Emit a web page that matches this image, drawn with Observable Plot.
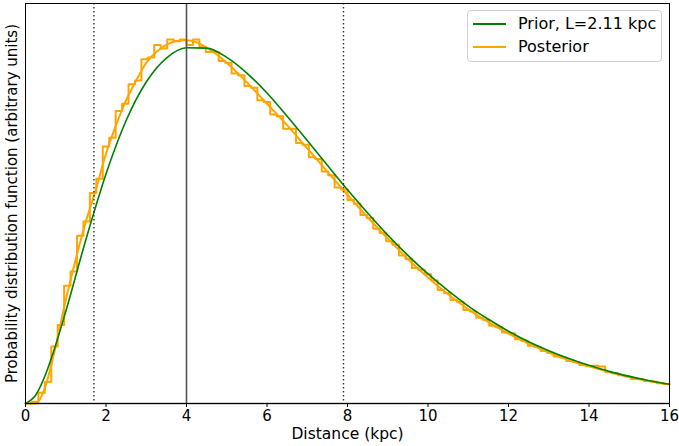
<!DOCTYPE html>
<html>
<head>
<meta charset="utf-8">
<script src="https://cdn.jsdelivr.net/npm/d3@7"></script>
<script src="https://cdn.jsdelivr.net/npm/@observablehq/plot@0.6"></script>
<style>
  html, body { margin: 0; padding: 0; background: white; }
  #wrap { position: relative; width: 679px; height: 446px; font-family: "DejaVu Sans", sans-serif; }
  #legend { position: absolute; left: 467px; top: 10px; width: 193px; height: 50px;
    border: 1px solid #d0d0d0; border-radius: 4px; background: rgba(255,255,255,0.85); }
  .sw { position: absolute; left: 5px; width: 33px; height: 0; border-top: 2px solid; }
  .lt { position: absolute; left: 50px; font-size: 16px; color: #000; line-height: 20px; white-space: nowrap; }
</style>
</head>
<body>
<div id="wrap"></div>
<script>
// ---- data ----
const priorLabel = "Prior, L=2.11 kpc";
const posteriorLabel = "Posterior";
const xLabel = "Distance (kpc)";
const yLabel = "Probability distribution function (arbitrary units)";
const xTicks = [0, 2, 4, 6, 8, 10, 12, 14, 16];

// Prior curve (green), relative units
const priorR   = [0, 0.25, 0.5, 0.75, 1, 1.5, 2, 2.5, 3, 3.5, 4, 4.5, 5, 5.5, 6, 6.5, 7, 7.5, 8, 8.5, 9, 9.5, 10, 10.5, 11, 11.5, 12, 12.5, 13, 13.5, 14, 14.5, 15, 15.5, 16];
const priorPDF = [0, 0.023, 0.082, 0.164, 0.258, 0.459, 0.643, 0.793, 0.901, 0.968, 0.997, 0.996, 0.970, 0.926, 0.870, 0.805, 0.737, 0.668, 0.599, 0.534, 0.472, 0.415, 0.363, 0.316, 0.273, 0.236, 0.2025, 0.173, 0.148, 0.126, 0.107, 0.090, 0.076, 0.064, 0.054];

// Smooth posterior curve (orange)
const postR   = [0, 0.25, 0.4, 0.5, 0.75, 1.0, 1.25, 1.5, 1.75, 2.0, 2.25, 2.5, 2.75, 3.0, 3.25, 3.5, 3.75, 4.0, 4.25, 4.5, 4.75, 5.0, 5.5, 6.0, 6.5, 7.0, 7.5, 8.0, 8.5, 9.0, 9.5, 10, 10.5, 11, 11.5, 12, 12.5, 13, 13.5, 14, 14.5, 15, 15.5, 16];
const postPDF = [0, 0, 0.02, 0.05, 0.16, 0.29, 0.405, 0.51, 0.60, 0.70, 0.78, 0.85, 0.905, 0.955, 0.985, 1.005, 1.016, 1.018, 1.012, 0.997, 0.978, 0.955, 0.90, 0.84, 0.78, 0.715, 0.65, 0.585, 0.522, 0.462, 0.405, 0.353, 0.306, 0.264, 0.228, 0.196, 0.168, 0.143, 0.122, 0.104, 0.088, 0.074, 0.063, 0.053];

// Posterior histogram (orange steps), 100 bins over 0-16 kpc
const binWidth = 0.16;
const histValues = [
  0, 0.005, 0.03, 0.06, 0.16, 0.22, 0.33, 0.37, 0.47, 0.51,
  0.59, 0.63, 0.72, 0.745, 0.82, 0.84, 0.895, 0.905, 0.965, 0.97,
  1.005, 0.995, 1.02, 1.015, 1.02, 1.005, 1.02, 1.0, 0.985, 0.985,
  0.96, 0.955, 0.925, 0.92, 0.89, 0.885, 0.85, 0.845, 0.81, 0.805,
  0.77, 0.77, 0.73, 0.725, 0.69, 0.685, 0.65, 0.64, 0.605, 0.60,
  0.57, 0.56, 0.528, 0.52, 0.49, 0.478, 0.455, 0.445, 0.415, 0.405,
  0.38, 0.375, 0.362, 0.345, 0.318, 0.31, 0.29, 0.285, 0.262, 0.258,
  0.24, 0.235, 0.218, 0.214, 0.199, 0.197, 0.18, 0.176, 0.162, 0.159,
  0.147, 0.142, 0.132, 0.129, 0.119, 0.116, 0.108, 0.105, 0.106, 0.104,
  0.088, 0.085, 0.079, 0.076, 0.069, 0.068, 0.063, 0.062, 0.057, 0.055
];

// Vertical reference lines
const solidLines = [4.0];
const dottedLines = [1.7, 7.9];

// ---- build rows ----
const priorRows = priorR.map((r, i) => ({r, p: priorPDF[i]}));
const postRows = postR.map((r, i) => ({r, p: postPDF[i]}));
const histRows = histValues.map((v, i) => ({r: i * binWidth, p: v}));
histRows.push({r: histValues.length * binWidth, p: histValues[histValues.length - 1]});

const chart = Plot.plot({
  width: 679,
  height: 446,
  marginLeft: 25,
  marginRight: 10,
  marginTop: 3,
  marginBottom: 43,
  style: {fontFamily: "DejaVu Sans, sans-serif", fontSize: "15px", background: "white", color: "black"},
  x: {domain: [0, 16]},
  y: {domain: [0, 1.121], axis: null},
  marks: [
    Plot.line(histRows, {x: "r", y: "p", curve: "step-after", stroke: "orange", strokeWidth: 2}),
    Plot.line(postRows, {x: "r", y: "p", curve: "monotone-x", stroke: "orange", strokeWidth: 2}),
    Plot.line(priorRows, {x: "r", y: "p", curve: "monotone-x", stroke: "green", strokeWidth: 1.6}),
    Plot.ruleX(dottedLines, {stroke: "#333", strokeWidth: 1.4, strokeDasharray: "1.4,2.6"}),
    Plot.ruleX(solidLines, {stroke: "#555", strokeWidth: 1.6}),
    Plot.ruleY([0], {stroke: "#555", strokeWidth: 1.6}),
    Plot.frame({stroke: "black", strokeWidth: 1}),
    Plot.axisX({ticks: xTicks, tickFormat: d => String(d), tickSize: 4, tickPadding: 3, label: null, fontSize: 15}),
    Plot.text([xLabel], {text: d => d, frameAnchor: "bottom", dy: 31, lineAnchor: "middle", textAnchor: "middle", fontSize: 15.5}),
    Plot.text([yLabel], {text: d => d, frameAnchor: "left", dx: -13, rotate: -90, lineAnchor: "middle", textAnchor: "middle", fontSize: 15})
  ]
});

const wrap = document.getElementById("wrap");
wrap.appendChild(chart);

const legend = document.createElement("div");
legend.id = "legend";
legend.innerHTML =
  `<div class="sw" style="top:12px;border-color:green"></div>` +
  `<span class="lt" style="top:3px">${priorLabel}</span>` +
  `<div class="sw" style="top:35px;border-color:orange"></div>` +
  `<span class="lt" style="top:26px">${posteriorLabel}</span>`;
wrap.appendChild(legend);
</script>
</body>
</html>
